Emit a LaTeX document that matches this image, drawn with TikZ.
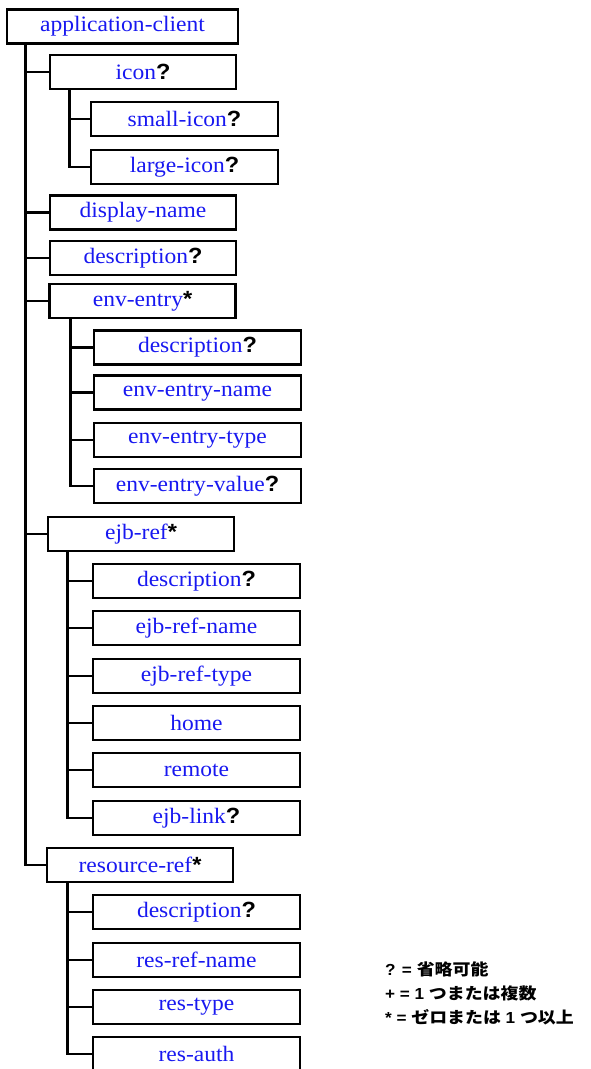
\documentclass[tikz,border=0pt]{standalone}
\usepackage{fontspec}
\setmainfont{Liberation Serif}[FakeStretch=1.07]
\setsansfont{Liberation Sans}[FakeStretch=1.07]
\newfontfamily\cjkfont{Noto Sans CJK JP}[FakeStretch=1.12]
\usetikzlibrary{positioning}
\definecolor{elemblue}{RGB}{24,24,240}

% occurrence marks after an element name
\newcommand{\optmark}{{\color{black}\sffamily\bfseries ?}}
\newcommand{\starmark}{{\color{black}\sffamily\bfseries *}}

\begin{document}
\begin{tikzpicture}[x=1pt, y=-1pt,
  elem/.style={draw, line width=2.6pt, minimum height=34pt, inner sep=0pt,
    text=elemblue, font=\fontsize{22}{24}\selectfont},
  top/.style={elem, minimum width=186pt},
  sub/.style={elem, minimum width=207pt},
  branch/.style={line width=2.6pt},
  legend/.style={anchor=base west, inner sep=0pt,
    font=\fontsize{16}{18}\selectfont\sffamily\bfseries}]
  \useasboundingbox (0,0) rectangle (590,1069);

  % Root
  \node[elem, minimum width=231pt] (root) at (122.5,26.5) {application-client};

  % icon
  \node[top] (icon) at (143,72) {icon\optmark};
  \node[sub, minimum width=187pt] (smallicon) at (184.5,119) {small-icon\optmark};
  \node[sub, minimum width=187pt] (largeicon) at (184.5,167) {large-icon\optmark};

  \node[top] (dispname) at (143,212.5) {display-name};
  \node[top] (desc) at (143,258) {description\optmark};

  % env-entry
  \node[top] (enventry) at (142.5,301) {env-entry\starmark};
  \node[sub] (eedesc) at (197.5,347.5) {description\optmark};
  \node[sub] (eename) at (197.5,392.5) {env-entry-name};
  \node[sub] (eetype) at (197.5,440) {env-entry-type};
  \node[sub] (eevalue) at (197.5,486) {env-entry-value\optmark};

  % ejb-ref
  \node[top] (ejbref) at (141,534) {ejb-ref\starmark};
  \node[sub] (ejbdesc) at (196.5,581) {description\optmark};
  \node[sub] (ejbname) at (196.5,628) {ejb-ref-name};
  \node[sub] (ejbtype) at (196.5,676) {ejb-ref-type};
  \node[sub] (home) at (196.5,723) {home};
  \node[sub] (remote) at (196.5,770) {remote};
  \node[sub] (ejblink) at (196.5,818) {ejb-link\optmark};

  % resource-ref
  \node[top] (resref) at (140,865) {resource-ref\starmark};
  \node[sub] (resdesc) at (196.5,912) {description\optmark};
  \node[sub] (resname) at (196.5,960) {res-ref-name};
  \node[sub] (restype) at (196.5,1007) {res-type};
  \node[sub] (resauth) at (196.5,1054) {res-auth};

  % Tree lines
  \foreach \c in {icon,dispname,desc,enventry,ejbref,resref}
    \draw[branch] ([xshift=20pt]root.south west) |- (\c.west);
  \foreach \c in {smallicon,largeicon}
    \draw[branch] ([xshift=21pt]icon.south west) |- (\c.west);
  \foreach \c in {eedesc,eename,eetype,eevalue}
    \draw[branch] ([xshift=22pt]enventry.south west) |- (\c.west);
  \foreach \c in {ejbdesc,ejbname,ejbtype,home,remote,ejblink}
    \draw[branch] ([xshift=21pt]ejbref.south west) |- (\c.west);
  \foreach \c in {resdesc,resname,restype,resauth}
    \draw[branch] ([xshift=22pt]resref.south west) |- (\c.west);

  % Legend
  \node[legend] (legopt) at (385,975) {? = {\cjkfont 省略可能}};
  \node[legend] (legplus) at (385,999) {+ = 1 {\cjkfont つまたは複数}};
  \node[legend] (legstar) at (385,1023) {* = {\cjkfont ゼロまたは} 1 {\cjkfont つ以上}};
\end{tikzpicture}
\end{document}
